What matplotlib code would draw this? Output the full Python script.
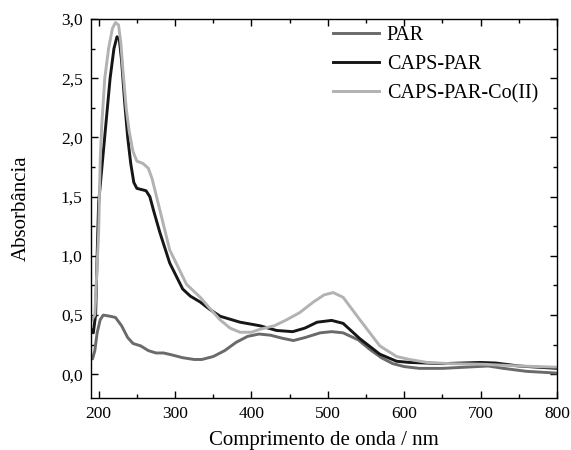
import matplotlib
matplotlib.use("Agg")
import matplotlib.pyplot as plt
from matplotlib.ticker import MultipleLocator, FuncFormatter

plt.rcParams['font.family'] = ['Liberation Serif', 'DejaVu Serif']
plt.rcParams['mathtext.fontset'] = 'stix'

# Wavelength (nm) / absorbance readings
par_wl = [190, 192, 195, 198, 202, 206, 215, 222, 230, 238, 245, 255, 265, 275, 285, 295,
          310, 325, 335, 350, 365, 380, 395, 410, 425, 440, 455, 470, 490, 505, 520, 540,
          555, 570, 585, 600, 620, 650, 680, 710, 730, 760, 800]
par_abs = [0.15, 0.13, 0.20, 0.35, 0.46, 0.50, 0.49, 0.48, 0.41, 0.31, 0.26, 0.24, 0.20, 0.18,
           0.18, 0.165, 0.14, 0.125, 0.125, 0.15, 0.20, 0.27, 0.32, 0.34, 0.33, 0.305, 0.285,
           0.31, 0.35, 0.36, 0.35, 0.29, 0.21, 0.14, 0.09, 0.065, 0.05, 0.05, 0.06, 0.07,
           0.05, 0.025, 0.01]

caps_wl = [190, 193, 196, 198, 200, 205, 210, 215, 220, 224, 227, 230, 234, 238, 242, 246,
           250, 256, 262, 267, 272, 280, 293, 310, 320, 333, 345, 359, 385, 411, 433, 454,
           470, 486, 505, 520, 542, 568, 590, 607, 650, 700, 720, 750, 800]
caps_abs = [0.38, 0.35, 0.50, 1.00, 1.45, 1.80, 2.15, 2.50, 2.75, 2.85, 2.83, 2.65, 2.30,
            2.00, 1.78, 1.62, 1.57, 1.56, 1.55, 1.50, 1.38, 1.20, 0.94, 0.72, 0.66, 0.61,
            0.55, 0.49, 0.44, 0.41, 0.37, 0.36, 0.39, 0.44, 0.455, 0.43, 0.30, 0.17, 0.11,
            0.10, 0.09, 0.10, 0.095, 0.07, 0.05]

co_wl = [190, 195, 200, 202, 204, 208, 213, 218, 222, 226, 229, 232, 236, 240, 245, 250,
         258, 265, 270, 275, 280, 293, 315, 333, 345, 359, 372, 385, 400, 411, 430, 446,
         463, 481, 495, 507, 520, 542, 568, 590, 607, 630, 660, 703, 750, 800]
co_abs = [0.45, 0.50, 1.20, 1.80, 2.10, 2.50, 2.75, 2.92, 2.97, 2.95, 2.80, 2.55, 2.25,
          2.05, 1.88, 1.80, 1.78, 1.74, 1.65, 1.52, 1.39, 1.05, 0.76, 0.65, 0.56, 0.46,
          0.39, 0.355, 0.355, 0.38, 0.41, 0.46, 0.52, 0.61, 0.67, 0.69, 0.65, 0.46, 0.24,
          0.15, 0.125, 0.10, 0.09, 0.085, 0.07, 0.06]

labels = ["PAR", "CAPS-PAR", "CAPS-PAR-Co(II)"]
colors = ["#6a6a6a", "#161616", "#b2b2b2"]

fig = plt.figure(figsize=(5.71, 4.5), dpi=100)
ax = fig.add_axes([0.1594, 0.1156, 0.8161, 0.8422])

for wl, ab, lab, c in zip([par_wl, caps_wl, co_wl], [par_abs, caps_abs, co_abs], labels, colors):
    ax.plot(wl, ab, color=c, lw=2.1, label=lab, solid_joinstyle='round')

ax.set_xlim(190, 800)
ax.set_ylim(-0.2, 3.0)
ax.xaxis.set_major_locator(MultipleLocator(100))
ax.xaxis.set_minor_locator(MultipleLocator(50))
ax.yaxis.set_major_locator(MultipleLocator(0.5))
ax.yaxis.set_minor_locator(MultipleLocator(0.25))
ax.yaxis.set_major_formatter(FuncFormatter(lambda v, p: f"{v:.1f}".replace('.', ',')))
ax.tick_params(which='both', direction='in', top=True, right=True, width=1.0, labelsize=12.5)
ax.tick_params(which='major', length=5, pad=6)
ax.tick_params(which='minor', length=3)
for s in ax.spines.values():
    s.set_linewidth(1.0)

ax.set_xlabel("Comprimento de onda / nm", fontsize=15, labelpad=6.5)
ax.set_ylabel("Absorbância", fontsize=15, labelpad=22)

ax.legend(loc='upper right', frameon=False, fontsize=14.5, handlelength=2.25,
          handletextpad=0.4, labelspacing=0.5, bbox_to_anchor=(0.998, 1.03))

fig.savefig("out.png", dpi=100)
